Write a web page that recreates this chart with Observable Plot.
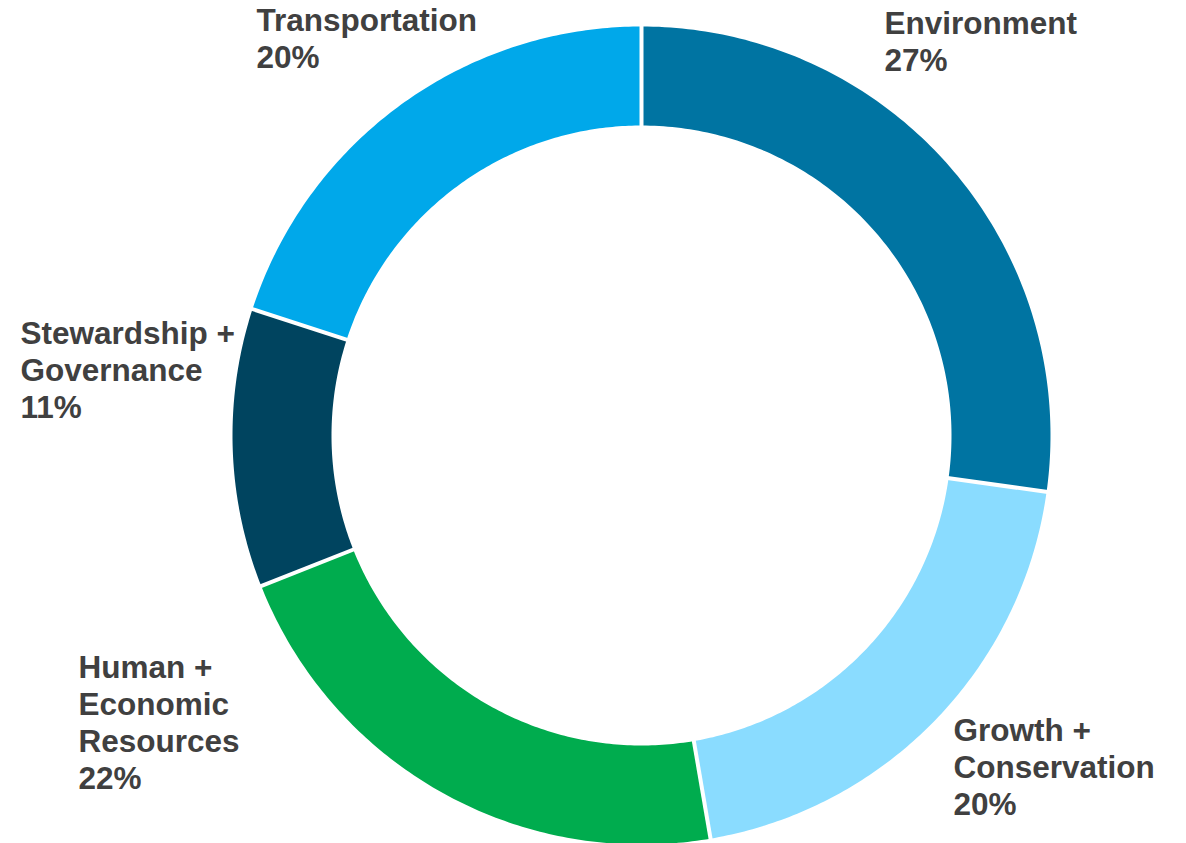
<!DOCTYPE html>
<html>
<head>
<meta charset="utf-8">
<script src="https://cdn.jsdelivr.net/npm/d3@7"></script>
<script src="https://cdn.jsdelivr.net/npm/@observablehq/plot@0.6"></script>
<style>
  html, body { margin: 0; padding: 0; background: #ffffff; }
  #chart svg { display: block; }
</style>
</head>
<body>
<div id="chart"></div>
<script>
// ---- data ----
const categories = ["Environment", "Growth + Conservation", "Human + Economic Resources", "Stewardship + Governance", "Transportation"];
const shares = [27.2, 20.1, 21.7, 11.0, 20.0];
const labelNames = [["Environment"], ["Growth +", "Conservation"], ["Human +", "Economic", "Resources"], ["Stewardship +", "Governance"], ["Transportation"]];
const colors = ["#0074A2", "#8ADCFF", "#00AC4E", "#00445F", "#00A8EA"];

// ---- layout ----
const W = 1186, H = 843;
const cx = 641, cy = 435, R = 409, r = 310;
const labelX = [884, 953, 78, 20, 256];
const labelY = [7, 714, 651, 317, 4];

const arcs = d3.pie().sort(null).value(d => d)(shares);
const pt = (rad, a) => [cx + rad * Math.sin(a), cy - rad * Math.cos(a)];

const ringPts = [];
arcs.forEach((a, i) => {
  const n = 120;
  for (let k = 0; k <= n; k++) {
    const ang = a.startAngle + (a.endAngle - a.startAngle) * k / n;
    const [x, y] = pt(R, ang);
    ringPts.push({cat: categories[i], x, y});
  }
  for (let k = n; k >= 0; k--) {
    const ang = a.startAngle + (a.endAngle - a.startAngle) * k / n;
    const [x, y] = pt(r, ang);
    ringPts.push({cat: categories[i], x, y});
  }
});

const seps = arcs.map(a => {
  const [x1, y1] = pt(r - 3, a.startAngle);
  const [x2, y2] = pt(R + 3, a.startAngle);
  return {x1, y1, x2, y2};
});

const labels = categories.map((c, i) => ({
  text: labelNames[i].join("\n") + "\n" + Math.round(shares[i]) + "%",
  x: labelX[i], y: labelY[i]
}));

const chart = Plot.plot({
  width: W, height: H,
  margin: 0,
  x: {domain: [0, W], range: [0, W], axis: null},
  y: {domain: [0, H], range: [0, H], axis: null},
  color: {domain: categories, range: colors},
  marks: [
    Plot.line(ringPts, {x: "x", y: "y", z: "cat", fill: "cat", stroke: null, curve: "linear-closed"}),
    Plot.link(seps, {x1: "x1", y1: "y1", x2: "x2", y2: "y2", stroke: "#ffffff", strokeWidth: 4}),
    Plot.text(labels, {x: "x", y: "y", text: "text", textAnchor: "start", lineAnchor: "top", lineHeight: 1.175,
      fontSize: 31.5, fontWeight: "bold", fill: "#404040", fontFamily: "Liberation Sans, Arial, sans-serif"})
  ]
});
document.getElementById("chart").appendChild(chart);
</script>
</body>
</html>
